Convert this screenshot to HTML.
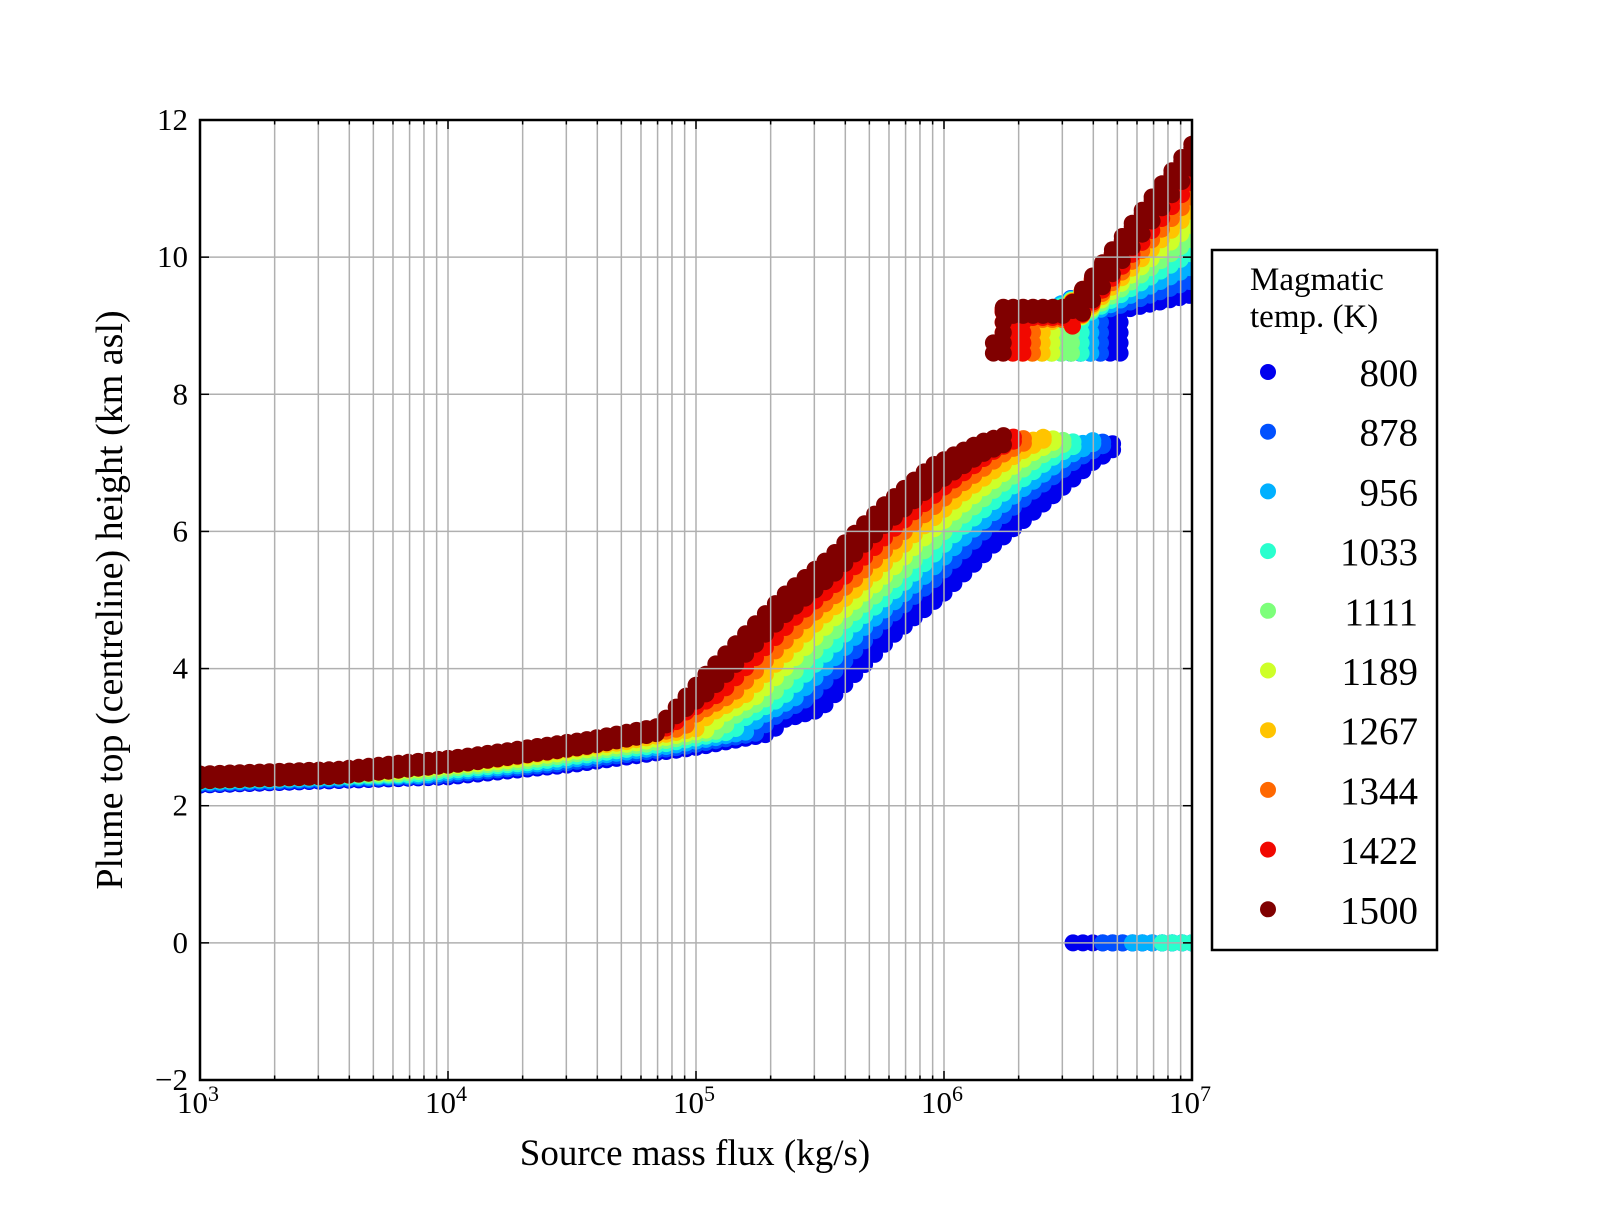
<!DOCTYPE html>
<html><head><meta charset="utf-8"><style>
html,body{margin:0;padding:0;background:#fff}
svg text{font-family:"Liberation Serif",serif;fill:#000}
</style></head><body>
<svg id="s" xmlns="http://www.w3.org/2000/svg" width="1600" height="1200" viewBox="0 0 1600 1200">
<defs><clipPath id="c"><rect x="200" y="120" width="992" height="960"/></clipPath></defs>
<rect width="1600" height="1200" fill="#fff"/>
<g id="pts" clip-path="url(#c)"></g>
<g id="grid" stroke="#b0b0b0" stroke-width="1.5"></g>
<g id="ticks" stroke="#000" stroke-width="1.5"></g>
<rect x="200" y="120" width="992" height="960" fill="none" stroke="#000" stroke-width="2.5"/>
<g id="lab" font-size="31"></g>
<text x="695" y="1165" font-size="37" text-anchor="middle">Source mass flux (kg/s)</text>
<text transform="translate(122,600) rotate(-90)" font-size="38" text-anchor="middle">Plume top (centreline) height (km asl)</text>
<rect x="1212" y="250" width="225" height="700" fill="#fff" stroke="#000" stroke-width="2.5"/>
<text x="1250" y="290" font-size="33">Magmatic</text>
<text x="1250" y="327" font-size="33">temp. (K)</text>
<g id="leg" font-size="39"></g>
</svg>
<script>
(function(){
var NS="http://www.w3.org/2000/svg";
function el(p,t,a,txt){var n=document.createElementNS(NS,t);for(var k in a)n.setAttribute(k,a[k]);if(txt!==undefined)n.textContent=txt;p.appendChild(n);return n;}
function X(u){return 200+(u-3)*248;}
function Y(h){return 1080-(h+2)*960/14;}
var cols=["#0000ee","#0050ff","#00b0ff","#29ffce","#7dff7a","#ceff29","#ffc400","#ff6800","#f10800","#800000"];
var temps=[800,878,956,1033,1111,1189,1267,1344,1422,1500];
var F=[[3,2.3],[4,2.42],[4.5,2.6],[5,2.85],[5.3,3.05],[5.5,3.85],[5.8,4.95],[6,5.55],[6.2,6.25],[6.4,6.85],[6.6,7.2],[6.7,7.3],[7,7.35]];
function f(u){if(u<=F[0][0])return F[0][1];for(var i=1;i<F.length;i++){if(u<=F[i][0]){var a=F[i-1],b=F[i];return a[1]+(b[1]-a[1])*(u-a[0])/(b[0]-a[0]);}}return F[F.length-1][1];}
function cl(v){return v<0?0:v>1?1:v;}
var P=document.getElementById("pts");var r=8.5;
function dot(u,h,c){el(P,"circle",{cx:X(u).toFixed(1),cy:Y(h).toFixed(1),r:r,fill:c});}
function col(u,lo,hi,c){for(var h=lo;h<hi;h+=0.15)dot(u,h,c);dot(u,hi,c);}
for(var k=0;k<10;k++){
  var c=cols[k];
  var end=6.7-0.05*k;
  for(var u=3;u<=end+1e-9;u+=0.04){
    var uu=u+0.05*k;
    var tp=f(uu)+0.012*k;
    var g=cl((uu-5.35)/0.15)*cl((6.75-uu)/0.35);
    var W=k==9?0.1+0.2*g:(k==0?0.45*g:0.3*g);
    col(u,tp-W,tp,c);
  }
  var us=6.55-0.039*k, dur=0.17-0.01*k;
  var ee=9.8+k*1.85/9, p=9.0+0.03*k, s=0.8+k*4.0/9;
  for(var u=us;u<=7.02;u+=0.04){
    var tp=Math.max(p,ee-s*(7-u));
    var th=(tp<p+0.1)?0.12:0.35;
    var bot=(u<us+dur)?8.6:tp-th;
    if(k==9&&u<us+0.04){tp=8.75;}
    col(u,bot,tp,c);
  }
  if(k<4){var zs=6.52+0.12*k;for(var u=zs;u<=7.02;u+=0.04)dot(u,0,c);}
}
var G=document.getElementById("grid"),T=document.getElementById("ticks"),L=document.getElementById("lab");
for(var d=3;d<7;d++){for(var m=1;m<10;m++){var x=X(d+Math.log10(m));
  if(!(d==3&&m==1))el(G,"line",{x1:x,y1:120,x2:x,y2:1080});
  var tl=m==1?9:4.5;
  el(T,"line",{x1:x,y1:1080,x2:x,y2:1080-tl});el(T,"line",{x1:x,y1:120,x2:x,y2:120+tl});}}
for(var h=-2;h<=12;h+=2){var y=Y(h);
  if(h>-2&&h<12)el(G,"line",{x1:200,y1:y,x2:1192,y2:y});
  el(T,"line",{x1:200,y1:y,x2:209,y2:y});el(T,"line",{x1:1192,y1:y,x2:1183,y2:y});
  el(L,"text",{x:188,y:y+10,"text-anchor":"end"},(h<0?"\u2212":"")+Math.abs(h));}
for(var d=3;d<=7;d++){var x=X(d);var t=el(L,"text",{x:x-23,y:1113});
  t.textContent="10";el(t,"tspan",{dy:-12,"font-size":22},String(d));}
var LG=document.getElementById("leg");
for(var i=0;i<10;i++){var y=372+59.7*i;
  el(LG,"circle",{cx:1268,cy:y,r:8,fill:cols[i]});
  el(LG,"text",{x:1418,y:y+14,"text-anchor":"end"},String(temps[i]));}
})();
</script>
</body></html>
